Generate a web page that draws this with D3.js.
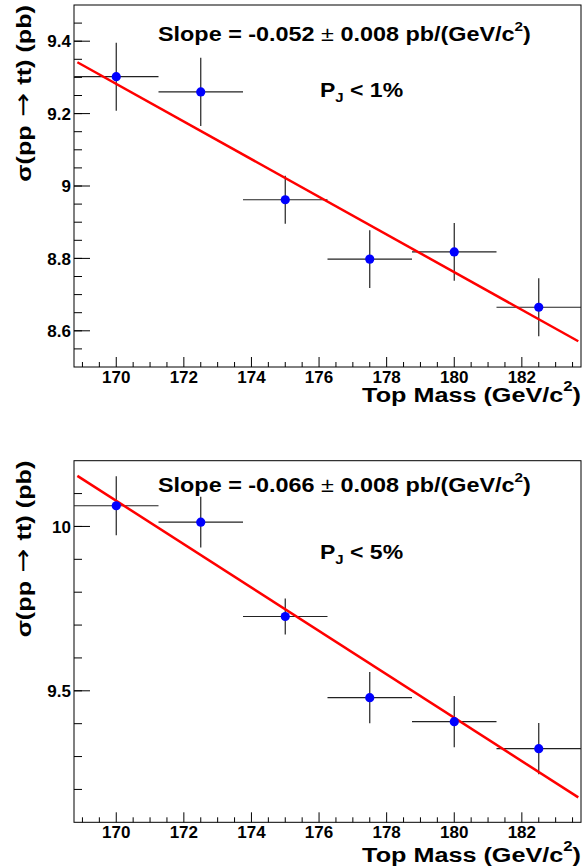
<!DOCTYPE html>
<html>
<head>
<meta charset="utf-8">
<script src="https://cdn.jsdelivr.net/npm/d3@7"></script>
<style>
  body { margin: 0; background: #fff; }
  svg { display: block; font-family: "Liberation Sans", Arial, sans-serif; }
</style>
</head>
<body>
<div id="chart"></div>
<script>
// data
var masses = [170, 172.5, 175, 177.5, 180, 182.5];
var massErr = [1.25, 1.25, 1.25, 1.25, 1.25, 1.25];

var xsec1 = [9.302, 9.26, 8.962, 8.798, 8.818, 8.665];
var xsecErr1 = [0.094, 0.094, 0.066, 0.08, 0.08, 0.08];

var xsec5 = [10.063, 10.013, 9.726, 9.479, 9.406, 9.324];
var xsecErr5 = [0.09, 0.077, 0.055, 0.078, 0.078, 0.078];

// fit lines: value at 176 and slope
var fit1 = [8.970, -0.052];
var fit5 = [9.682, -0.066];
var fitRange = [168.85, 183.67];

var xTicks = [170, 172, 174, 176, 178, 180, 182];
var yTicks1 = [8.6, 8.8, 9, 9.2, 9.4];
var yTicks5 = [9.5, 10];

var width = 587, height = 867;
var left = 74, right = 581;

var svg = d3.select("#chart").append("svg")
  .attr("width", width)
  .attr("height", height);

var x = d3.scaleLinear().domain([168.75, 183.75]).range([left, right]);

// big labels in the original are a bit wider than Arial, stretch them
function wideText(g, tx, ty, sx, size, rot) {
  var tr = "translate(" + tx + "," + ty + ")" + (rot ? " rotate(-90)" : "") + " scale(" + sx + ",1)";
  return g.append("text")
    .attr("transform", tr)
    .style("font-size", size + "px").style("font-weight", "bold");
}

function drawPanel(opts) {
  var y = d3.scaleLinear().domain(opts.yDomain).range([opts.bottom, opts.top]);
  var g = svg.append("g");

  // minor + major ticks on x (pointing inward)
  var xMinor = d3.range(169, 183.6, 0.5).filter(function(v) { return v % 2 !== 0; });
  g.selectAll(".xminor").data(xMinor).enter().append("line")
    .attr("x1", function(d) { return x(d); }).attr("x2", function(d) { return x(d); })
    .attr("y1", opts.bottom).attr("y2", opts.bottom - 5)
    .attr("stroke", "#000").attr("stroke-width", 1);
  g.selectAll(".xmajor").data(xTicks).enter().append("line")
    .attr("x1", function(d) { return x(d); }).attr("x2", function(d) { return x(d); })
    .attr("y1", opts.bottom).attr("y2", opts.bottom - 10)
    .attr("stroke", "#000").attr("stroke-width", 1);
  g.selectAll(".xlab").data(xTicks).enter().append("text")
    .attr("x", function(d) { return x(d); })
    .attr("y", opts.bottom + 16)
    .attr("text-anchor", "middle")
    .style("font-size", "17px").style("font-weight", "bold")
    .text(function(d) { return d; });

  // y ticks
  var yMinor = d3.range(opts.yDomain[0], opts.yDomain[1] + 1e-9, opts.minorStep)
    .filter(function(v) { return v > opts.yDomain[0] + 1e-9 && v < opts.yDomain[1] - 1e-9; });
  g.selectAll(".yminor").data(yMinor).enter().append("line")
    .attr("x1", left).attr("x2", left + 8)
    .attr("y1", function(d) { return y(d); }).attr("y2", function(d) { return y(d); })
    .attr("stroke", "#000").attr("stroke-width", 1);
  g.selectAll(".ymajor").data(opts.yTicks).enter().append("line")
    .attr("x1", left).attr("x2", left + 16)
    .attr("y1", function(d) { return y(d); }).attr("y2", function(d) { return y(d); })
    .attr("stroke", "#000").attr("stroke-width", 1);
  g.selectAll(".ylab").data(opts.yTicks).enter().append("text")
    .attr("x", left - 3)
    .attr("y", function(d) { return y(d); })
    .attr("dy", "0.36em")
    .attr("text-anchor", "end")
    .style("font-size", "17px").style("font-weight", "bold")
    .text(function(d) { return String(+d.toFixed(2)); });

  // frame
  g.append("rect")
    .attr("x", left).attr("y", opts.top)
    .attr("width", right - left).attr("height", opts.bottom - opts.top)
    .attr("fill", "none").attr("stroke", "#000").attr("stroke-width", 1);

  // error bars
  var pts = masses.map(function(m, i) {
    return { m: m, dm: massErr[i], v: opts.values[i], dv: opts.errors[i] };
  });
  g.selectAll(".ex").data(pts).enter().append("line")
    .attr("x1", function(d) { return x(d.m - d.dm); })
    .attr("x2", function(d) { return Math.min(x(d.m + d.dm), right); })
    .attr("y1", function(d) { return y(d.v); }).attr("y2", function(d) { return y(d.v); })
    .attr("stroke", "#222").attr("stroke-width", 1.2);
  g.selectAll(".ey").data(pts).enter().append("line")
    .attr("x1", function(d) { return x(d.m); }).attr("x2", function(d) { return x(d.m); })
    .attr("y1", function(d) { return y(d.v - d.dv); }).attr("y2", function(d) { return y(d.v + d.dv); })
    .attr("stroke", "#222").attr("stroke-width", 1.2);

  // fit
  var f = function(m) { return opts.fit[0] + opts.fit[1] * (m - 176); };
  g.append("line")
    .attr("x1", x(fitRange[0])).attr("y1", y(f(fitRange[0])))
    .attr("x2", x(fitRange[1])).attr("y2", y(f(fitRange[1])))
    .attr("stroke", "#ff0000").attr("stroke-width", 2.5);

  g.selectAll(".pt").data(pts).enter().append("circle")
    .attr("cx", function(d) { return x(d.m); })
    .attr("cy", function(d) { return y(d.v); })
    .attr("r", 4.6)
    .attr("fill", "#0000ff");

  // slope text
  var t = wideText(g, 158, opts.slopeY, 1.17, 20);
  t.append("tspan").text("Slope = " + opts.slopeText + " ");
  t.append("tspan").style("font-weight", "normal").text("\u00b1");
  t.append("tspan").text(" 0.008 pb/(GeV/c");
  t.append("tspan").attr("dy", -10).style("font-size", "13px").text("2");
  t.append("tspan").attr("dy", 10).text(")");

  var p = wideText(g, 320, opts.pjY, 1.15, 20);
  p.append("tspan").text("P");
  p.append("tspan").attr("dy", 5).style("font-size", "13px").text("J");
  p.append("tspan").attr("dy", -5).text(" < " + opts.pjText);

  // axis titles
  var xt = wideText(g, right, opts.xTitleY + 1, 1.2, 21).attr("text-anchor", "end");
  xt.append("tspan").text("Top Mass (GeV/c");
  xt.append("tspan").attr("dy", -11).style("font-size", "14px").text("2");
  xt.append("tspan").attr("dy", 11).text(")");

  var yt = wideText(g, 31, opts.top, 1.2, 21, true).attr("text-anchor", "end");
  yt.append("tspan").text("\u03c3(pp ");
  yt.append("tspan").attr("dx", 1).style("font-weight", "normal").style("font-family", "DejaVu Sans")
    .style("font-size", "24px").text("\u2192");
  yt.append("tspan").attr("dx", 1).text(" tt) (pb)");
}

drawPanel({
  top: 5, bottom: 367, yDomain: [8.5, 9.5], yTicks: yTicks1, minorStep: 0.05,
  values: xsec1, errors: xsecErr1, fit: fit1,
  slopeText: "-0.052", slopeY: 41, pjText: "1%", pjY: 97, xTitleY: 401
});

drawPanel({
  top: 460.7, bottom: 822.3, yDomain: [9.1, 10.2], yTicks: yTicks5, minorStep: 0.1,
  values: xsec5, errors: xsecErr5, fit: fit5,
  slopeText: "-0.066", slopeY: 492, pjText: "5%", pjY: 559, xTitleY: 861
});
</script>
</body>
</html>
